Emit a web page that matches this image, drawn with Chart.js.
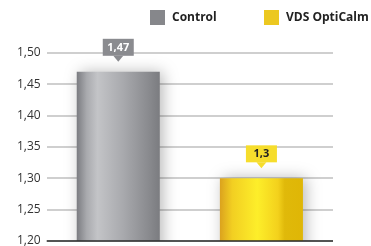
<!DOCTYPE html>
<html>
<head>
<meta charset="utf-8">
<script src="https://cdn.jsdelivr.net/npm/chart.js@4/dist/chart.umd.min.js"></script>
<style>
  html,body{margin:0;padding:0;background:#fff;}
  #wrap{width:371px;height:246px;position:relative;}
</style>
</head>
<body>
<div id="wrap"><canvas id="chart"></canvas></div>
<script>
const categories  = ['Control', 'VDS OptiCalm'];
const values      = [1.47, 1.30];
const valueLabels = ['1,47', '1,3'];
const yTicks      = [1.20, 1.25, 1.30, 1.35, 1.40, 1.45, 1.50];

const legendColors = ['#86878b', '#ecc820'];
const boxColors    = ['#8a8b8f', '#f6dd2c'];
const boxText      = ['#ffffff', '#222222'];

const gradStops = [
    [[0,'#7b7c81'],[0.12,'#a9aaae'],[0.25,'#c3c4c7'],[0.55,'#a9aaae'],[0.85,'#8b8c90'],[1,'#7b7c80']],
    [[0,'#dba21e'],[0.15,'#f2cf22'],[0.45,'#fdee2a'],[0.7,'#f3d11c'],[0.78,'#e0b90a'],[1,'#dfb606']]
];

const fmt = v => v.toFixed(2).replace('.', ',');

// gradients + shadow on bars
const barLook = {
    id:'barLook',
    beforeDatasetsDraw(chart){
        const ctx = chart.ctx;
        chart.getDatasetMeta(0).data.forEach((el,i)=>{
            const g = ctx.createLinearGradient(el.x - el.width/2, 0, el.x + el.width/2, 0);
            gradStops[i].forEach(s=>g.addColorStop(s[0], s[1]));
            el.options.backgroundColor = g;
        });
        ctx.save();
        ctx.shadowColor = 'rgba(0,0,0,0.28)';
        ctx.shadowBlur = 14;
        ctx.shadowOffsetX = 3;
    },
    afterDatasetsDraw(chart){
        chart.ctx.restore();
        const ctx = chart.ctx;
        const bottom = chart.scales.y.getPixelForValue(1.2);
        ctx.save();
        ctx.strokeStyle = '#2b2b2b';
        ctx.lineWidth = 1.5;
        ctx.beginPath();
        ctx.moveTo(chart.chartArea.left, bottom);
        ctx.lineTo(chart.chartArea.right, bottom);
        ctx.stroke();
        ctx.restore();
    }
};

// callout value labels + legend
const extras = {
    id:'extras',
    afterDraw(chart){
        const ctx = chart.ctx;
        ctx.save();
        chart.getDatasetMeta(0).data.forEach((el,i)=>{
            const tip = el.y - 10;
            const bh = 17, bw = 31;
            const by = tip - 6 - bh;
            ctx.fillStyle = boxColors[i];
            ctx.fillRect(el.x - bw/2, by, bw, bh);
            ctx.beginPath();
            ctx.moveTo(el.x - 5, by + bh);
            ctx.lineTo(el.x + 5, by + bh);
            ctx.lineTo(el.x, tip);
            ctx.closePath();
            ctx.fill();
            ctx.fillStyle = boxText[i];
            ctx.font = 'bold 11px "Open Sans", sans-serif';
            ctx.textAlign = 'center';
            ctx.textBaseline = 'middle';
            ctx.fillText(valueLabels[i], el.x, by + bh/2 + 0.5);
        });
        const lx = [150, 264];
        categories.forEach((c,i)=>{
            ctx.fillStyle = legendColors[i];
            ctx.fillRect(lx[i], 10, 15, 15);
            ctx.fillStyle = '#222';
            ctx.font = 'bold 12px "Open Sans", sans-serif';
            ctx.textAlign = 'left';
            ctx.textBaseline = 'middle';
            ctx.fillText(c, lx[i] + 22, 17.5);
        });
        ctx.restore();
    }
};

new Chart(document.getElementById('chart'), {
    type:'bar',
    data:{
        labels:categories,
        datasets:[{data:values, backgroundColor:legendColors, borderWidth:0,
            barPercentage:0.58, categoryPercentage:1}]
    },
    options:{
        responsive:true,
        maintainAspectRatio:false,
        animation:false,
        devicePixelRatio:1,
        layout:{padding:{top:53, right:38, bottom:5, left:11}},
        plugins:{legend:{display:false}, tooltip:{enabled:false}},
        scales:{
            x:{display:false},
            y:{
                min:1.2, max:1.5,
                afterBuildTicks(axis){ axis.ticks = yTicks.map(v=>({value:v})); },
                afterFit(axis){ axis.paddingTop = 0; axis.paddingBottom = 0; },
                grid:{color:'#cfcfcf', lineWidth:2, drawTicks:false},
                border:{display:false},
                ticks:{
                    padding:6,
                    color:'#333',
                    font:{family:'"Open Sans", sans-serif', size:12},
                    callback:v=>fmt(v)
                }
            }
        }
    },
    plugins:[barLook, extras]
});
</script>
</body>
</html>
